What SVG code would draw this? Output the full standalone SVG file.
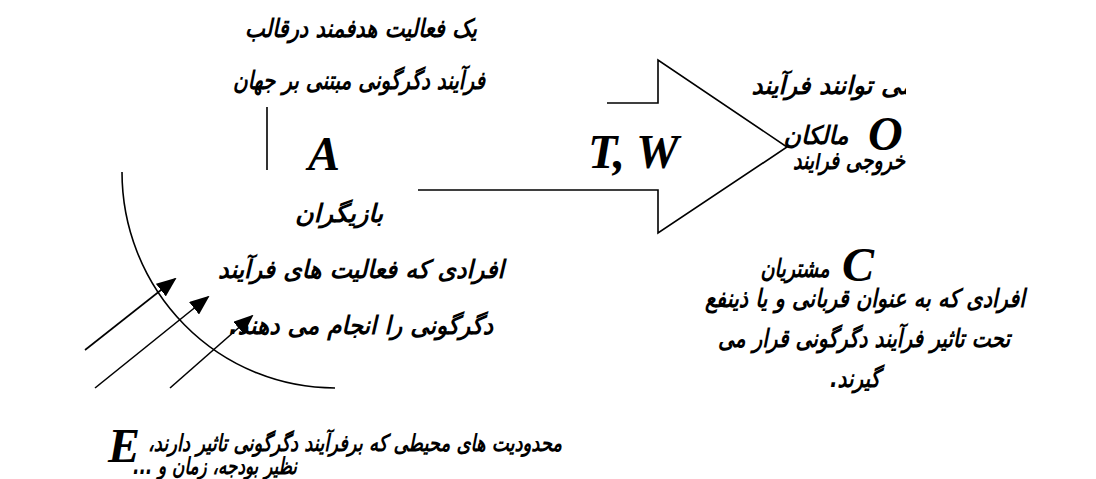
<svg xmlns="http://www.w3.org/2000/svg" width="1096" height="479" viewBox="0 0 1096 479">
<style>
.fa{font-family:"DejaVu Sans","Noto Sans",sans-serif;font-weight:bold;font-style:italic;font-size:25px;fill:#000;text-anchor:middle;direction:rtl}
.sm{font-size:23px}
.lt{font-family:"Liberation Serif","Times New Roman",serif;font-weight:bold;font-style:italic;font-size:48px;fill:#000}
.ln{fill:none;stroke:#000;stroke-width:1.6}
</style>
<defs>
<marker id="ah2" viewBox="0 0 10 10" refX="9" refY="5" markerWidth="20" markerHeight="16" markerUnits="userSpaceOnUse" orient="auto" preserveAspectRatio="none">
<path d="M0,0 L10,5 L0,10 z" fill="#000"/>
</marker>
<clipPath id="cl"><rect x="0" y="0" width="906" height="479"/></clipPath>
</defs>
<rect width="1096" height="479" fill="#fff"/>

<g id="owners">
<text class="fa" x="833" y="94" textLength="163" lengthAdjust="spacingAndGlyphs" clip-path="url(#cl)">می توانند فرآیند</text>
<text class="fa" x="849" y="169" textLength="112" lengthAdjust="spacingAndGlyphs">خروجی فرآیند</text>
<rect x="778" y="102" width="220" height="51" fill="#fff"/>
<text class="fa" x="816" y="144" textLength="65" lengthAdjust="spacingAndGlyphs">مالکان</text>
<text class="lt" x="868" y="150">O</text>
</g>

<g id="process">
<polygon points="267,103 658,103 658,60 787,147 658,233 658,190 267,190" fill="#fff"/>
<path class="ln" d="M607,103 H658 V60 L787,147 L658,233 V190 H418 M267,107 V170"/>
<text class="lt" x="588" y="168">T, W</text>
</g>

<g id="transformation">
<text class="fa" x="361" y="37" textLength="232" lengthAdjust="spacingAndGlyphs">یک فعالیت هدفمند درقالب</text>
<text class="fa" x="359" y="89" textLength="252" lengthAdjust="spacingAndGlyphs">فرآیند دگرگونی مبتنی بر جهان</text>
</g>

<g id="actors">
<text class="lt" x="308" y="170">A</text>
<text class="fa" x="339" y="222" textLength="88" lengthAdjust="spacingAndGlyphs">بازیگران</text>
<text class="fa" x="361" y="278" textLength="286" lengthAdjust="spacingAndGlyphs">افرادی که فعالیت های فرآیند</text>
<text class="fa" x="361" y="334" textLength="264" lengthAdjust="spacingAndGlyphs">دگرگونی را انجام می دهند.</text>
</g>

<g id="environment">
<text class="lt" x="108" y="462">E</text>
<text class="fa sm" x="355" y="451" textLength="414" lengthAdjust="spacingAndGlyphs">محدودیت های محیطی که برفرآیند دگرگونی تاثیر دارند،</text>
<text class="fa sm" x="215" y="474" textLength="164" lengthAdjust="spacingAndGlyphs">نظیر بودجه، زمان و ...</text>
</g>

<g id="customers">
<text class="lt" x="842" y="281">C</text>
<text class="fa" x="795" y="277" textLength="69" lengthAdjust="spacingAndGlyphs">مشتریان</text>
<text class="fa" x="865" y="307" textLength="320" lengthAdjust="spacingAndGlyphs">افرادی که به عنوان قربانی و یا ذینفع</text>
<text class="fa" x="864" y="347" textLength="292" lengthAdjust="spacingAndGlyphs">تحت تاثیر فرآیند دگرگونی قرار می</text>
<text class="fa" x="855" y="387" textLength="50" lengthAdjust="spacingAndGlyphs">گیرند.</text>
</g>

<g id="connectors">
<path class="ln" d="M122,172 A213,216 0 0 0 335,388"/>
<line class="ln" x1="85" y1="350" x2="175" y2="279" marker-end="url(#ah2)"/>
<line class="ln" x1="95" y1="388" x2="208" y2="297" marker-end="url(#ah2)"/>
<line class="ln" x1="170" y1="388" x2="252" y2="316" marker-end="url(#ah2)"/>
</g>
</svg>
